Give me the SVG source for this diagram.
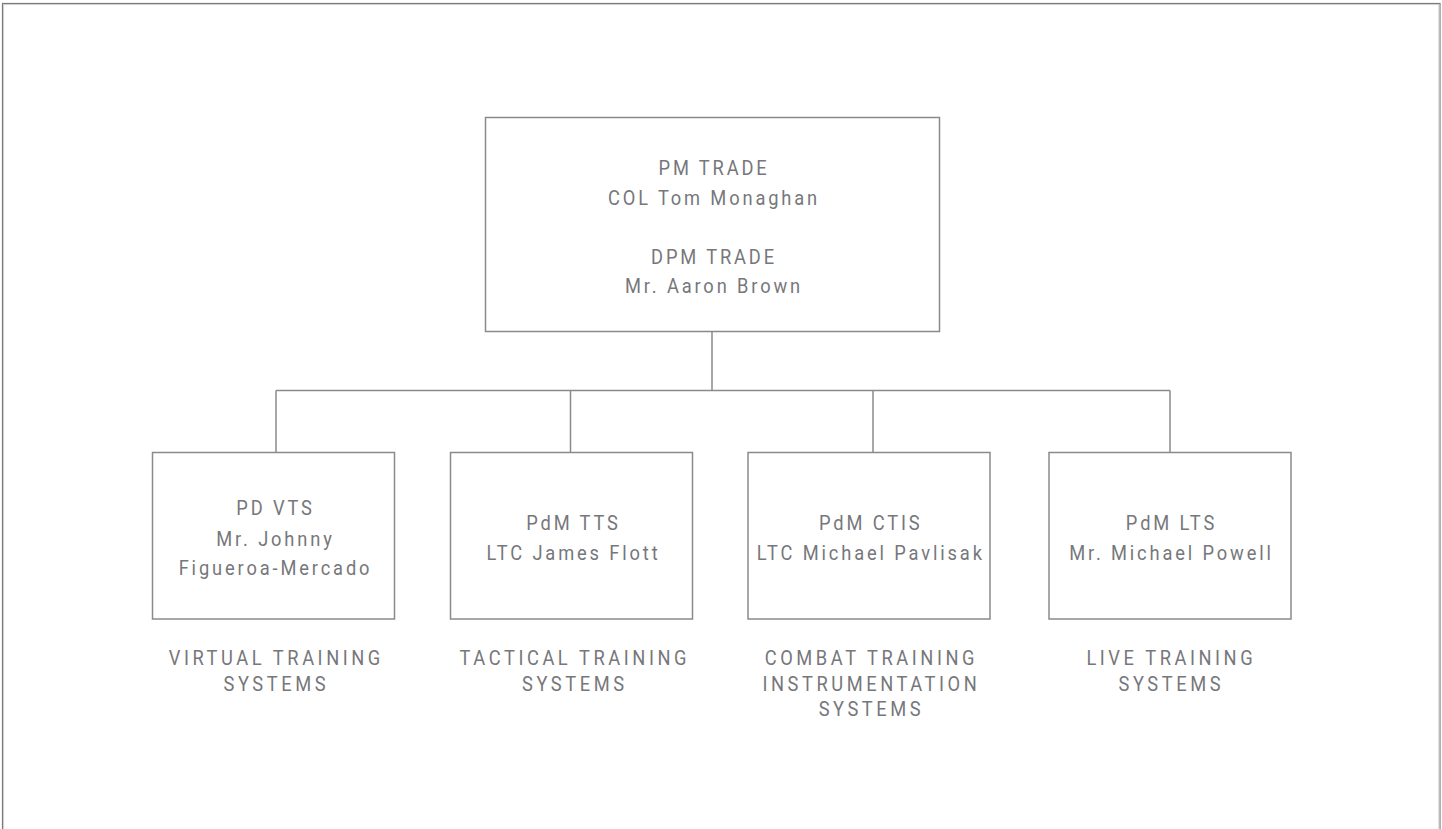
<svg xmlns="http://www.w3.org/2000/svg" width="1442" height="829" viewBox="0 0 1442 829">
  <style>
    .frame-outer { fill: none; stroke: #7a7a7a; stroke-width: 1.2; }
    .frame-inner { fill: none; stroke: #cfcfcf; stroke-width: 1; }
    .box { fill: #ffffff; stroke: #8a8a8a; stroke-width: 1.5; }
    .conn { fill: none; stroke: #8a8a8a; stroke-width: 1.5; }
    .t { font-family: Roboto, "Liberation Sans", sans-serif; font-size: 21px; fill: #76777b; text-anchor: middle; letter-spacing: 3.3px; }
    .lbl { font-family: Roboto, "Liberation Sans", sans-serif; font-size: 21px; fill: #76777b; text-anchor: middle; letter-spacing: 4.1px; }
  </style>
  <rect x="0" y="0" width="1442" height="829" fill="#ffffff"/>
  <rect class="frame-outer" x="2.5" y="3.5" width="1437.5" height="900"/>
  <rect class="frame-inner" x="3.6" y="4.6" width="1435.3" height="900"/>

  <g id="connectors">
    <line class="conn" x1="712" y1="331.5" x2="712" y2="390.5"/>
    <line class="conn" x1="276" y1="390.5" x2="1170" y2="390.5"/>
    <line class="conn" x1="276" y1="390.5" x2="276" y2="452.5"/>
    <line class="conn" x1="570.5" y1="390.5" x2="570.5" y2="452.5"/>
    <line class="conn" x1="873" y1="390.5" x2="873" y2="452.5"/>
    <line class="conn" x1="1170" y1="390.5" x2="1170" y2="452.5"/>
  </g>

  <g id="pm-trade">
    <rect class="box" x="485.5" y="117.5" width="454" height="214"/>
    <text class="t" transform="translate(714 175) scale(0.87 1)">PM TRADE</text>
    <text class="t" transform="translate(714 204.5) scale(0.87 1)">COL Tom Monaghan</text>
    <text class="t" transform="translate(714 263.5) scale(0.87 1)">DPM TRADE</text>
    <text class="t" transform="translate(714 292.5) scale(0.87 1)">Mr. Aaron Brown</text>
  </g>

  <g id="pd-vts">
    <rect class="box" x="152.5" y="452.5" width="242" height="166.5"/>
    <text class="t" transform="translate(275.5 515) scale(0.87 1)">PD VTS</text>
    <text class="t" transform="translate(275.5 545.5) scale(0.87 1)">Mr. Johnny</text>
    <text class="t" transform="translate(275.5 575) scale(0.87 1)">Figueroa-Mercado</text>
  </g>

  <g id="pdm-tts">
    <rect class="box" x="450.5" y="452.5" width="242" height="166.5"/>
    <text class="t" transform="translate(573.5 530) scale(0.87 1)">PdM TTS</text>
    <text class="t" transform="translate(573.5 560) scale(0.87 1)">LTC James Flott</text>
  </g>

  <g id="pdm-ctis">
    <rect class="box" x="748" y="452.5" width="242" height="166.5"/>
    <text class="t" transform="translate(870.8 530) scale(0.87 1)">PdM CTIS</text>
    <text class="t" transform="translate(870.8 560) scale(0.87 1)">LTC Michael Pavlisak</text>
  </g>

  <g id="pdm-lts">
    <rect class="box" x="1049" y="452.5" width="242" height="166.5"/>
    <text class="t" transform="translate(1171.5 530) scale(0.87 1)">PdM LTS</text>
    <text class="t" transform="translate(1171.5 560) scale(0.87 1)">Mr. Michael Powell</text>
  </g>

  <g id="label-vts">
    <text class="lbl" transform="translate(276.3 665) scale(0.87 1)">VIRTUAL TRAINING</text>
    <text class="lbl" transform="translate(276.3 690.5) scale(0.87 1)">SYSTEMS</text>
  </g>
  <g id="label-tts">
    <text class="lbl" transform="translate(574.8 665) scale(0.87 1)">TACTICAL TRAINING</text>
    <text class="lbl" transform="translate(574.8 690.5) scale(0.87 1)">SYSTEMS</text>
  </g>
  <g id="label-ctis">
    <text class="lbl" transform="translate(871.4 665) scale(0.87 1)">COMBAT TRAINING</text>
    <text class="lbl" transform="translate(871.4 690.5) scale(0.87 1)">INSTRUMENTATION</text>
    <text class="lbl" transform="translate(871.4 716) scale(0.87 1)">SYSTEMS</text>
  </g>
  <g id="label-lts">
    <text class="lbl" transform="translate(1171.3 665) scale(0.87 1)">LIVE TRAINING</text>
    <text class="lbl" transform="translate(1171.3 690.5) scale(0.87 1)">SYSTEMS</text>
  </g>
</svg>
